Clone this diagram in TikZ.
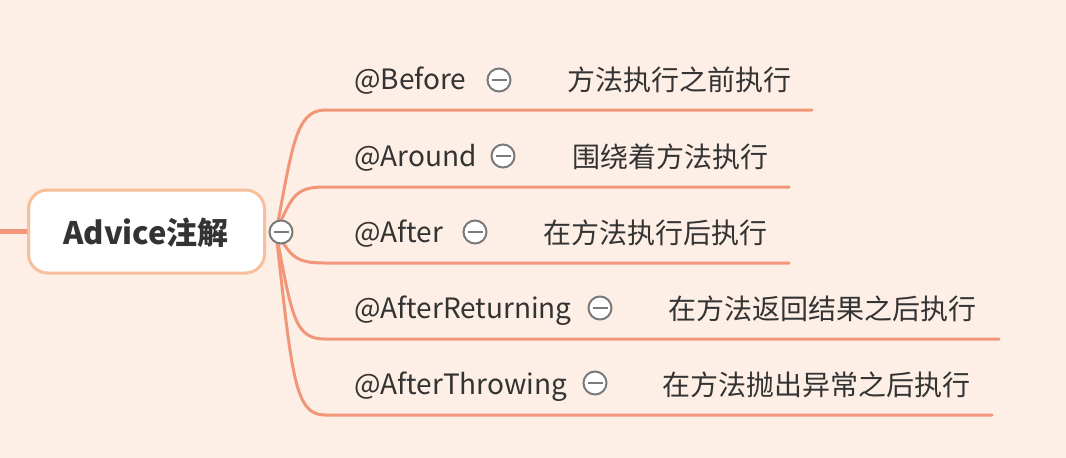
\documentclass[tikz,border=0pt]{standalone}
\usepackage{fontspec}
\setmainfont{Noto Sans CJK SC}
\begin{document}
\definecolor{bgc}{HTML}{FDEFE6}
\definecolor{brc}{HTML}{F2967A}
\definecolor{rootb}{HTML}{F7BF9A}
\definecolor{txt}{HTML}{333333}
\definecolor{foldc}{HTML}{7A7A7A}
\begin{tikzpicture}[x=1pt,y=-1pt,
  branch/.style={draw=brc,line width=3pt,line cap=round},
  rootbox/.style={draw=rootb,line width=3pt,fill=white,rounded corners=19pt,minimum width=236pt,minimum height=83pt,inner sep=0pt},
  lbl/.style={anchor=base west,inner sep=0pt,text=txt,font=\fontsize{28pt}{32pt}\selectfont},
  cn/.style={anchor=base west,inner sep=0pt,text=txt,font=\fontsize{28pt}{32pt}\selectfont},
  fold/.style={circle,draw=foldc,line width=2pt,fill=white,minimum size=23pt,inner sep=0pt,
    path picture={\draw[foldc,line width=2pt] ([xshift=-7.5pt]path picture bounding box.center) -- ([xshift=7.5pt]path picture bounding box.center);}}
]
\fill[bgc] (0,0) rectangle (1066,458);
\useasboundingbox (0,0) rectangle (1066,458);

\coordinate (o) at (276,232);
\coordinate (l0) at (-2,231.5);
\coordinate (e1) at (812,110);
\coordinate (e2) at (789,187);
\coordinate (e3) at (789,263);
\coordinate (e4) at (999,339);
\coordinate (e5) at (992,415);

% branches
\draw[branch] (o) .. controls (292,150) and (295,110) .. (325,110) -- (e1);
\draw[branch] (o) .. controls (292,196) and (295,187) .. (325,187) -- (e2);
\draw[branch] (o) .. controls (292,257) and (295,263) .. (325,263) -- (e3);
\draw[branch] (o) .. controls (292,318) and (295,339) .. (325,339) -- (e4);
\draw[branch] (o) .. controls (292,378) and (295,415) .. (325,415) -- (e5);

\node[rootbox] (root) at (146.5,231.5) {};
\draw[draw=brc,line width=5pt] (l0) -- (root.west);
\node[anchor=base west,inner sep=0pt,text=txt,font=\fontsize{31pt}{35pt}\selectfont\bfseries] (roott) at (63,244) {Advice注解};
\node[fold] (f0) at (281,232) {};

% labels
\node[lbl] (a1) at (354,89) {@Before};
\node[lbl] (a2) at (354,166) {@Around};
\node[lbl] (a3) at (354,242) {@After};
\node[lbl] (a4) at (354,318) {@AfterReturning};
\node[lbl] (a5) at (354,394) {@AfterThrowing};

\node[fold] (f1) at (499,80) {};
\node[fold] (f2) at (503,156) {};
\node[fold] (f3) at (475,232) {};
\node[fold] (f4) at (600,308) {};
\node[fold] (f5) at (595,383) {};

\node[cn] (c1) at (567,90) {方法执行之前执行};
\node[cn] (c2) at (572,167) {围绕着方法执行};
\node[cn] (c3) at (543,243) {在方法执行后执行};
\node[cn] (c4) at (668,319) {在方法返回结果之后执行};
\node[cn] (c5) at (662,395) {在方法抛出异常之后执行};
\end{tikzpicture}
\end{document}
